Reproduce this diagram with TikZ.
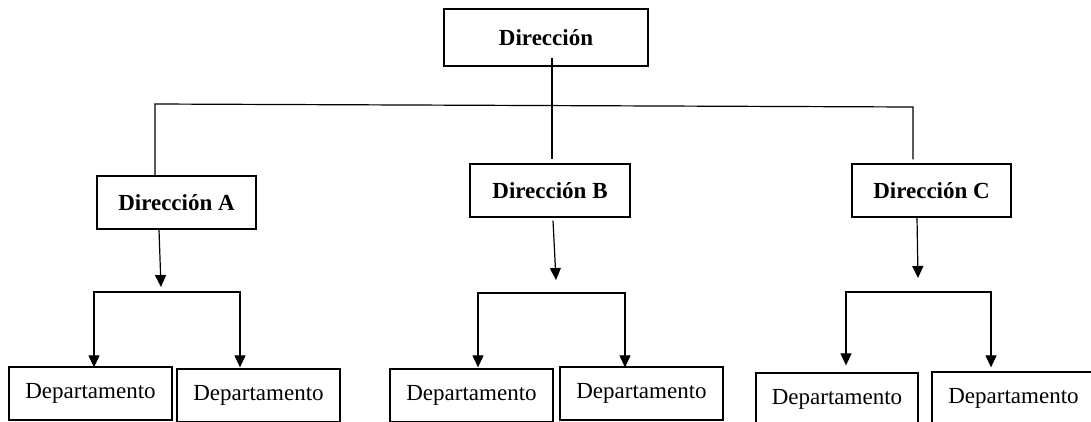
\documentclass[tikz,border=0pt]{standalone}
\usepackage{fontspec}
\setmainfont{Liberation Serif}
\usetikzlibrary{arrows.meta}
\begin{document}
\begin{tikzpicture}[x=1pt,y=-1pt,
  box/.style={draw, line width=1.3pt, inner sep=0pt, minimum height=53pt,
    font=\fontsize{23}{27}\selectfont},
  head/.style={box, font=\fontsize{23}{27}\selectfont\bfseries},
  dept/.style={box, minimum width=163pt},
  link/.style={line width=1.2pt},
  arr/.style={link, -{Triangle[width=11pt,length=12pt]}},
  twoarr/.style={link, {Triangle[width=11pt,length=12pt]}-{Triangle[width=11pt,length=12pt]}}]
\useasboundingbox (0,0) rectangle (1091,421);
\clip (0,0) rectangle (1091,421);

% top level
\node[head, minimum width=204pt, minimum height=57pt] (D0) at (546,37.5) {Dirección};

% second level
\node[head, minimum width=159pt] (DA) at (176.5,202.5) {Dirección A};
\node[head, minimum width=160pt] (DB) at (550,190.5) {Dirección B};
\node[head, minimum width=159pt] (DC) at (931.5,190.5) {Dirección C};

% departments
\node[dept] (A1) at (90.5,393.5) {Departamento};
\node[dept] (A2) at (258.5,395.5) {Departamento};
\node[dept] (B1) at (471.5,395.5) {Departamento};
\node[dept] (B2) at (641.5,393.5) {Departamento};
\node[dept, minimum width=162pt] (C1) at (837,399.5) {Departamento};
\node[dept] (C2) at (1013.5,398.5) {Departamento};

% main bus
\coordinate (busL) at (155,104);
\coordinate (busR) at (913,107);
\coordinate (busM) at (552,105.5);
\draw[link] (DA.north -| busL) -- (busL) -- (busR) -- ([yshift=4pt]DC.north -| busR);
\draw[link] ([yshift=9pt]D0.south -| busM) -- ([yshift=4pt]DB.north -| busM);

% branch A
\coordinate (tipA) at (161,287);
\coordinate (aL) at (94,292);
\coordinate (aR) at (240,292);
\draw[arr] ([xshift=-17.5pt]DA.south) -- (tipA);
\draw[twoarr] ([yshift=-1pt]A1.north -| aL) |- (aR) -- ([yshift=1pt]A2.north -| aR);

% branch B
\coordinate (tipB) at (556,280);
\coordinate (bL) at (478,293);
\coordinate (bR) at (625,293);
\draw[arr] ([xshift=3pt,yshift=-3pt]DB.south) -- (tipB);
\draw[twoarr] ([yshift=1pt]B1.north -| bL) |- (bR) -- ([yshift=-1pt]B2.north -| bR);

% branch C
\coordinate (tipC) at (918,278);
\coordinate (cL) at (846,292);
\coordinate (cR) at (991,292);
\draw[arr] ([xshift=-14.5pt]DC.south) -- (tipC);
\draw[twoarr] ([yshift=7pt]C1.north -| cL) |- (cR) -- ([yshift=4pt]C2.north -| cR);
\end{tikzpicture}
\end{document}
